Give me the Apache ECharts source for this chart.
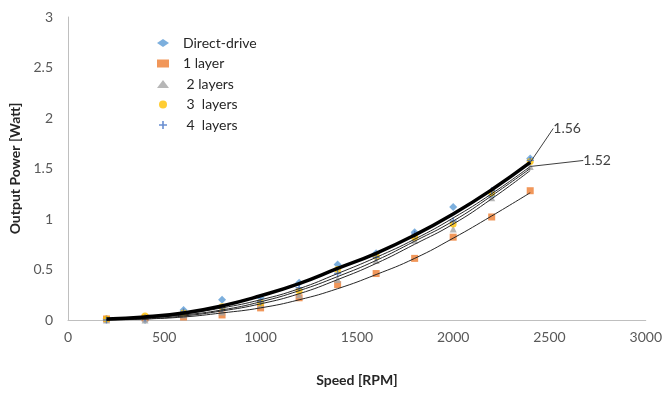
<!DOCTYPE html>
<html>
<head>
<meta charset="utf-8">
<script src="https://cdn.jsdelivr.net/npm/echarts@6/dist/echarts.min.js"></script>
<style>
  html, body { margin: 0; padding: 0; background: #fff; }
  #mainChart { width: 665px; height: 393px; }
</style>
</head>
<body>
<div id="mainChart"></div>
<script>
// speed points (RPM)
var speeds = [200, 400, 600, 800, 1000, 1200, 1400, 1600, 1800, 2000, 2200, 2400];

// measured output power [W]
var directDrive = [0.01, 0.00, 0.10, 0.20, 0.22, 0.37, 0.55, 0.66, 0.87, 1.12, 1.23, 1.60];
var layer1      = [0.01, 0.02, 0.03, 0.05, 0.12, 0.22, 0.35, 0.46, 0.61, 0.82, 1.02, 1.28];
var layers2     = [0.00, 0.00, 0.05, 0.08, 0.15, 0.25, 0.40, 0.59, 0.79, 0.90, 1.21, 1.52];
var layers3     = [0.01, 0.04, 0.07, 0.13, 0.17, 0.29, 0.50, 0.63, 0.82, 0.95, 1.26, 1.57];
var layers4     = [0.00, 0.02, 0.08, 0.12, 0.18, 0.32, 0.46, 0.62, 0.85, 0.98, 1.28, 1.58];

// trendlines
var fitDirect = [0.01, 0.03, 0.07, 0.14, 0.24, 0.36, 0.51, 0.66, 0.84, 1.05, 1.29, 1.56];
var fit3      = [0.00, 0.02, 0.06, 0.12, 0.20, 0.31, 0.46, 0.62, 0.80, 1.01, 1.25, 1.52];
var fit4      = [0.00, 0.02, 0.05, 0.10, 0.18, 0.29, 0.43, 0.59, 0.78, 0.98, 1.23, 1.50];
var fit2      = [0.00, 0.01, 0.04, 0.09, 0.16, 0.26, 0.40, 0.56, 0.75, 0.95, 1.20, 1.48];
var fit1      = [0.00, 0.01, 0.03, 0.07, 0.12, 0.20, 0.31, 0.45, 0.61, 0.81, 1.03, 1.26];

var legends = ['Direct-drive', '1 layer', ' 2 layers', ' 3  layers', ' 4  layers'];
var xTicks = [0, 500, 1000, 1500, 2000, 2500, 3000];

function pairs(ys) {
    var out = [];
    for (var i = 0; i < speeds.length; i++) {
        out.push([speeds[i], ys[i]]);
    }
    return out;
}

var plusPath = 'path://M4,0H6V4H10V6H6V10H4V6H0V4H4Z';
var font = 'Lato, "Liberation Sans", sans-serif';

function scatter(name, ys, symbol, color, size) {
    return {
        name: name,
        type: 'scatter',
        symbol: symbol,
        symbolSize: size,
        itemStyle: {color: color},
        data: pairs(ys)
    };
}

function fitLine(ys, width, endLabel, dx, dy) {
    var color = width > 2 ? '#000' : '#262626';
    var s = {
        type: 'line',
        smooth: true,
        showSymbol: false,
        symbol: 'none',
        silent: true,
        lineStyle: {color: color, width: width},
        data: pairs(ys)
    };
    if (endLabel) {
        s.symbol = 'circle';
        s.showSymbol = true;
        s.symbolSize = 0.1;
        s.itemStyle = {color: color};
        var d = s.data;
        for (var i = 0; i < d.length; i++) {
            d[i] = {value: d[i], label: {show: i === d.length - 1}};
        }
        s.label = {
            position: 'right',
            distance: 2,
            formatter: endLabel,
            fontFamily: font,
            fontSize: 14,
            color: '#404040'
        };
        s.labelLayout = {dx: dx, dy: dy, hideOverlap: false};
        s.labelLine = {show: true, lineStyle: {color: '#404040', width: 1}};
    }
    return s;
}

var series = [
    scatter(legends[0], directDrive, 'diamond', '#5B9BD5', 8),
    scatter(legends[1], layer1, 'rect', '#ED7D31', 7),
    scatter(legends[2], layers2, 'triangle', '#A5A5A5', 7),
    scatter(legends[3], layers3, 'circle', '#FFC000', 7),
    scatter(legends[4], layers4, plusPath, '#4472C4', 7),
    fitLine(fit1, 1),
    fitLine(fit2, 1),
    fitLine(fit4, 1),
    fitLine(fit3, 1, '1.52', 51, -6),
    fitLine(fitDirect, 3.5, '1.56', 21, -34)
];

var myChart = echarts.init(document.getElementById('mainChart'));
myChart.setOption({
    animation: false,
    backgroundColor: '#fff',
    textStyle: {fontFamily: font},
    grid: {left: 68, right: 15, top: 17, bottom: 73},
    legend: {
        data: legends,
        orient: 'vertical',
        left: 152,
        top: 31,
        itemWidth: 12,
        itemHeight: 8,
        itemGap: 6.5,
        textStyle: {fontFamily: font, fontSize: 14, color: '#262626', padding: [0, 0, 0, 9]}
    },
    xAxis: {
        type: 'value',
        min: xTicks[0],
        max: xTicks[xTicks.length - 1],
        interval: 500,
        name: 'Speed [RPM]',
        nameLocation: 'middle',
        nameGap: 53,
        nameTextStyle: {fontWeight: 'bold', fontSize: 14, color: '#262626', fontFamily: font},
        axisLine: {lineStyle: {color: '#BFBFBF'}},
        axisTick: {show: false},
        splitLine: {show: false},
        axisLabel: {fontSize: 14, color: '#595959', margin: 10, fontFamily: font,
            formatter: function (v) { return String(v); }}
    },
    yAxis: {
        type: 'value',
        min: 0,
        max: 3,
        interval: 0.5,
        name: 'Output Power [Watt]',
        nameLocation: 'middle',
        nameGap: 46,
        nameTextStyle: {fontWeight: 'bold', fontSize: 14, color: '#262626', fontFamily: font},
        axisLine: {show: true, lineStyle: {color: '#BFBFBF'}},
        axisTick: {show: false},
        splitLine: {show: false},
        axisLabel: {fontSize: 14, color: '#595959', margin: 15, fontFamily: font,
            formatter: function (v) { return String(v); }}
    },
    series: series
});
</script>
</body>
</html>
